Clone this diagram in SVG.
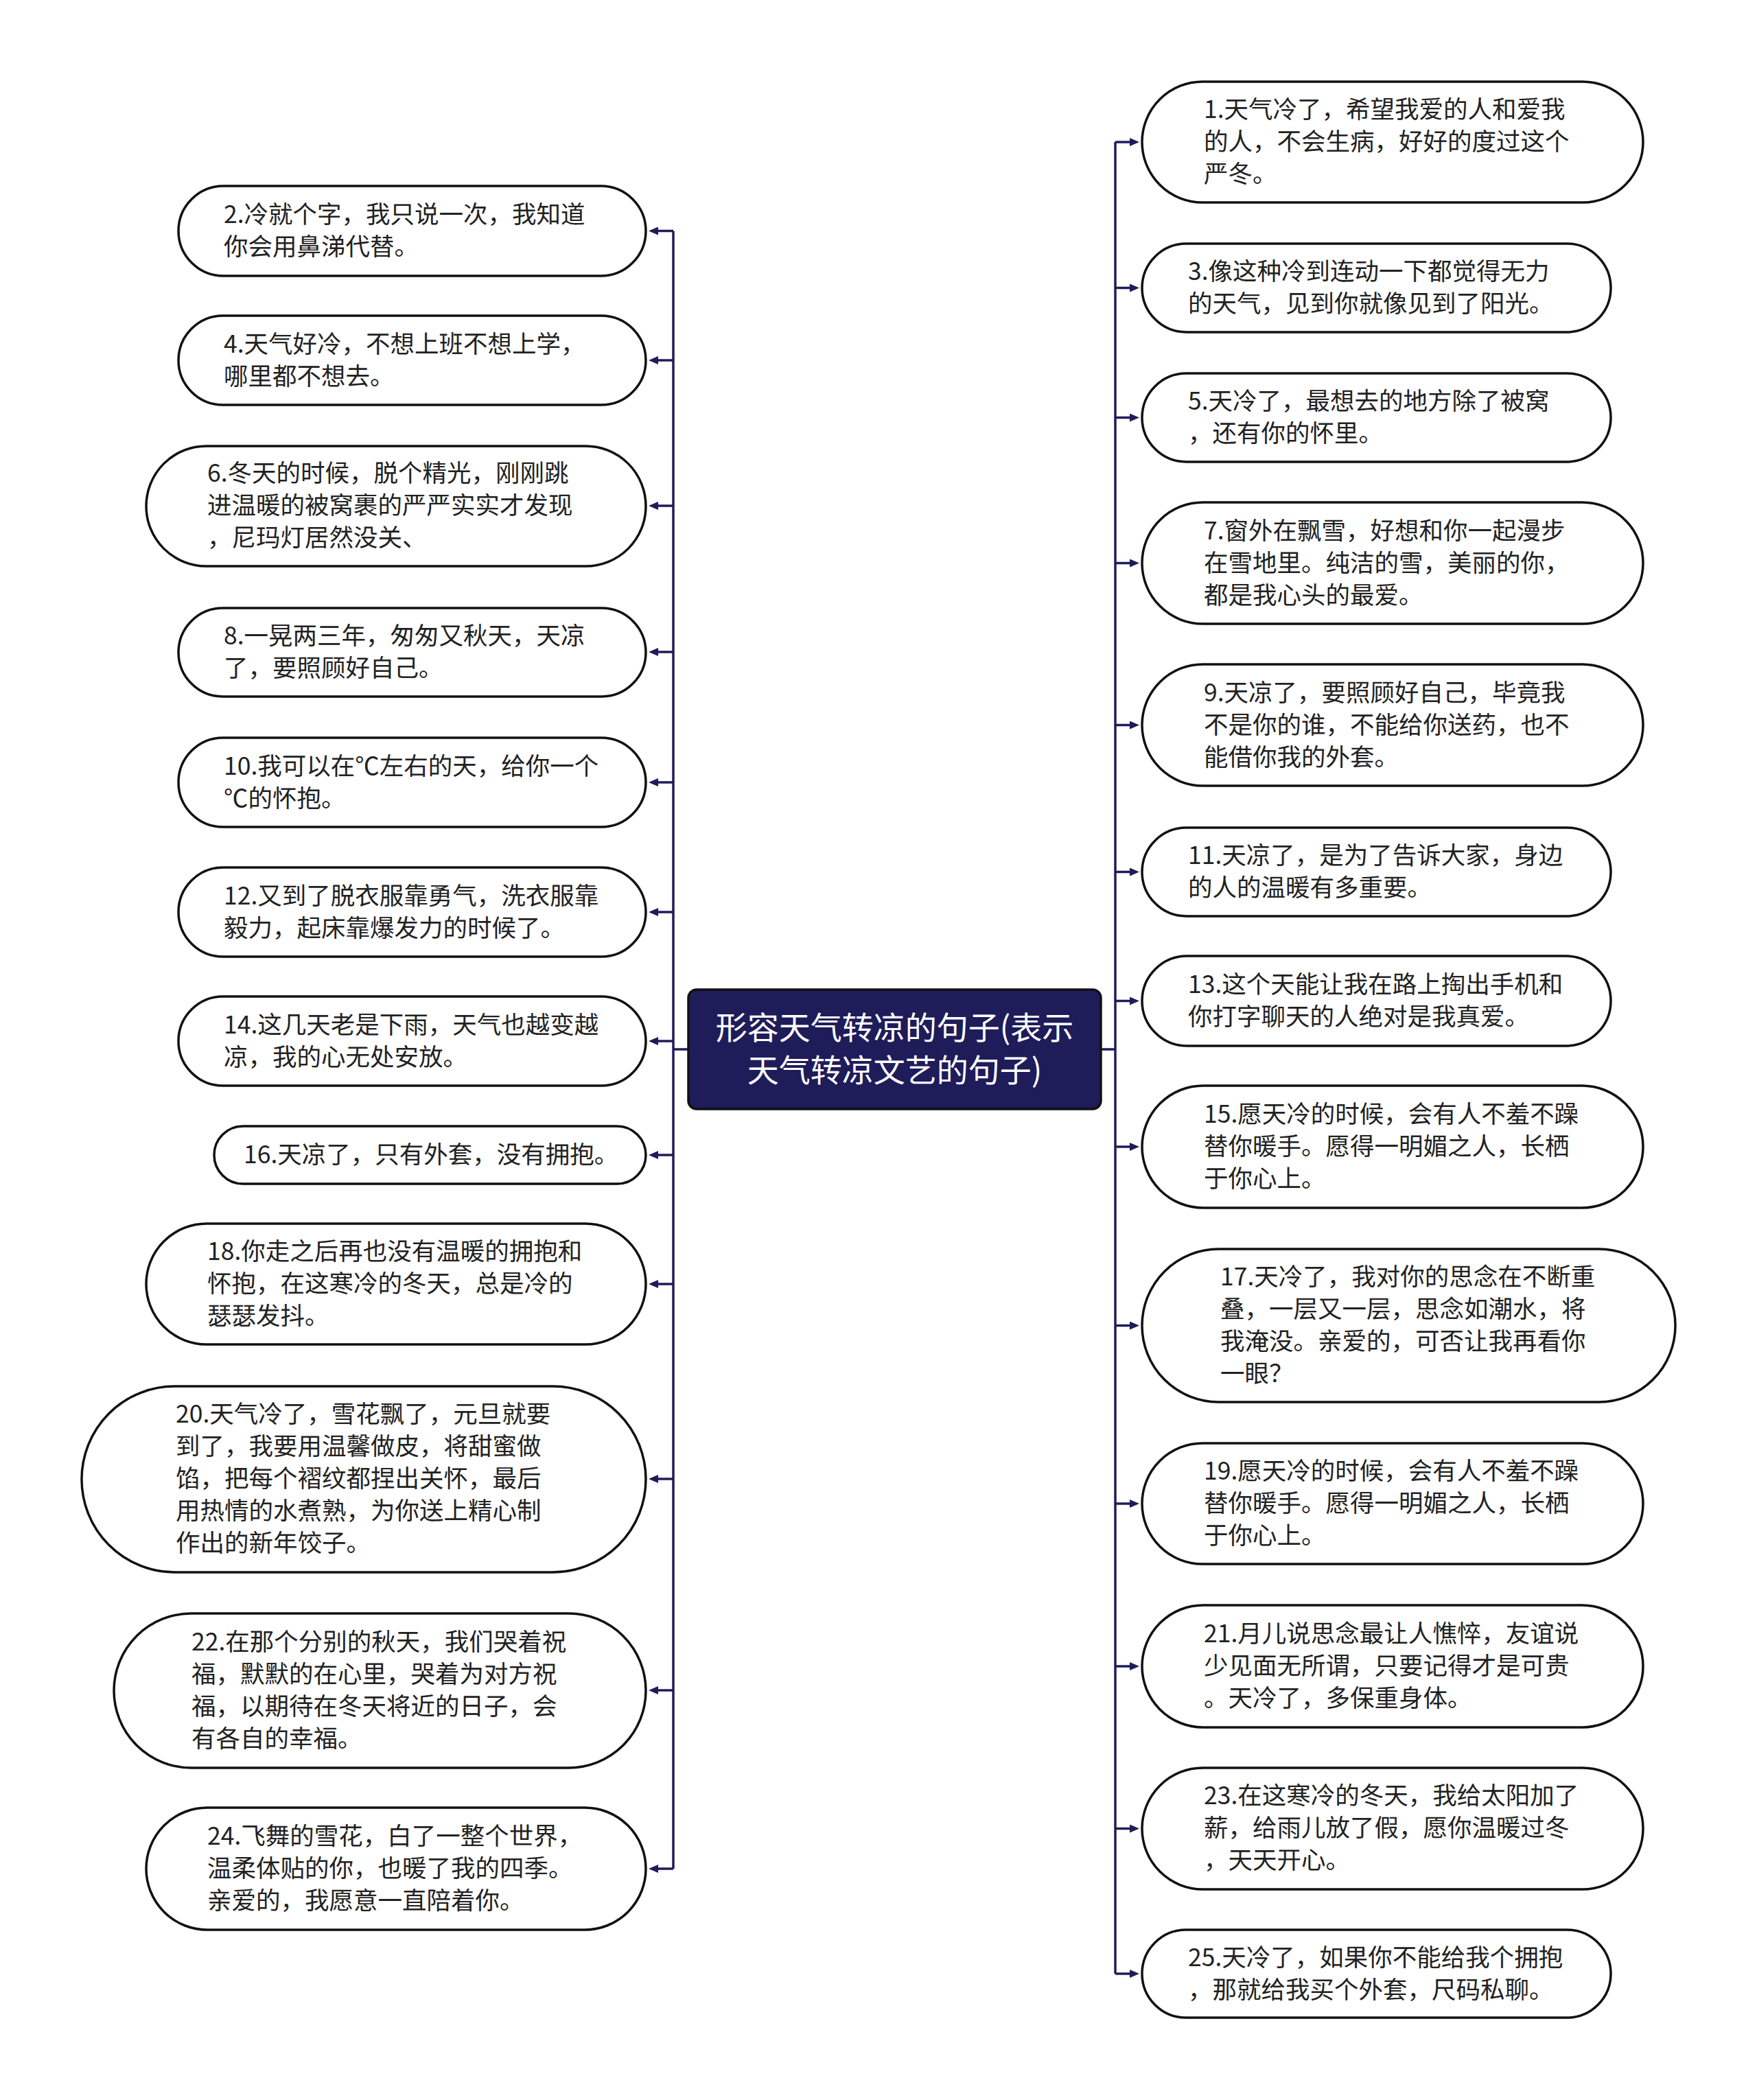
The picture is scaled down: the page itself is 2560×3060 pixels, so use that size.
<svg xmlns="http://www.w3.org/2000/svg" width="2560" height="3060" viewBox="0 0 2560 3060">
<defs>
<style>
.bg{fill:#ffffff}
.node rect{fill:#ffffff;stroke:#111111;stroke-width:3.5}
.node text{font-family:"Noto Sans CJK SC","Noto Sans",sans-serif;font-size:35.5px;fill:#222222}
.root rect{fill:#1f1c5a;stroke:#111111;stroke-width:3.5}
.root text{font-family:"Noto Sans CJK SC","Noto Sans",sans-serif;font-size:46px;fill:#ffffff;text-anchor:middle}
.conn path{fill:none;stroke:#1f1c5a;stroke-width:3.5}
.br{marker-end:url(#ah)}
</style>
<marker id="ah" markerUnits="userSpaceOnUse" markerWidth="14" markerHeight="12" refX="3" refY="6" orient="auto">
<path d="M0,0 L14,6 L0,12 Z" fill="#1f1c5a"/>
</marker>
</defs>
<rect class="bg" x="0" y="0" width="2560" height="3060"/>

<g id="connectors" class="conn">
<path d="M981,336.5 V2723"/>
<path d="M1625,207 V2876"/>
<path d="M1003,1529 H981"/>
<path d="M1604,1529 H1625"/>
<path class="br" d="M981,336.5 H956"/>
<path class="br" d="M981,525 H956"/>
<path class="br" d="M981,737 H956"/>
<path class="br" d="M981,950 H956"/>
<path class="br" d="M981,1140 H956"/>
<path class="br" d="M981,1329 H956"/>
<path class="br" d="M981,1517 H956"/>
<path class="br" d="M981,1683 H956"/>
<path class="br" d="M981,1871 H956"/>
<path class="br" d="M981,2155 H956"/>
<path class="br" d="M981,2463 H956"/>
<path class="br" d="M981,2723 H956"/>
<path class="br" d="M1625,207 H1649"/>
<path class="br" d="M1625,419.5 H1649"/>
<path class="br" d="M1625,608.5 H1649"/>
<path class="br" d="M1625,820.5 H1649"/>
<path class="br" d="M1625,1056.5 H1649"/>
<path class="br" d="M1625,1270.5 H1649"/>
<path class="br" d="M1625,1458.5 H1649"/>
<path class="br" d="M1625,1671 H1649"/>
<path class="br" d="M1625,1931.5 H1649"/>
<path class="br" d="M1625,2191 H1649"/>
<path class="br" d="M1625,2428 H1649"/>
<path class="br" d="M1625,2664.5 H1649"/>
<path class="br" d="M1625,2876 H1649"/>
</g>

<g id="root" class="root">
<rect x="1003" y="1442" width="601" height="174" rx="12"/>
<text x="1303.5" y="1514">形容天气转凉的句子(表示</text>
<text x="1303.5" y="1576">天气转凉文艺的句子)</text>
</g>

<g id="n2" class="node">
<rect x="260" y="271" width="681" height="131" rx="65.5"/>
<text x="326" y="325">2.冷就个字，我只说一次，我知道</text>
<text x="326" y="372">你会用鼻涕代替。</text>
</g>
<g id="n4" class="node">
<rect x="260" y="460" width="681" height="130" rx="65"/>
<text x="326" y="514">4.天气好冷，不想上班不想上学，</text>
<text x="326" y="561">哪里都不想去。</text>
</g>
<g id="n6" class="node">
<rect x="213" y="650" width="728" height="175" rx="87.5"/>
<text x="302" y="702">6.冬天的时候，脱个精光，刚刚跳</text>
<text x="302" y="749">进温暖的被窝裹的严严实实才发现</text>
<text x="302" y="796">，尼玛灯居然没关、</text>
</g>
<g id="n8" class="node">
<rect x="260" y="886" width="681" height="129" rx="64.5"/>
<text x="326" y="939">8.一晃两三年，匆匆又秋天，天凉</text>
<text x="326" y="986">了，要照顾好自己。</text>
</g>
<g id="n10" class="node">
<rect x="260" y="1075" width="681" height="130" rx="65"/>
<text x="326" y="1129">10.我可以在℃左右的天，给你一个</text>
<text x="326" y="1176">℃的怀抱。</text>
</g>
<g id="n12" class="node">
<rect x="260" y="1264" width="681" height="130" rx="65"/>
<text x="326" y="1318">12.又到了脱衣服靠勇气，洗衣服靠</text>
<text x="326" y="1365">毅力，起床靠爆发力的时候了。</text>
</g>
<g id="n14" class="node">
<rect x="260" y="1452" width="681" height="130" rx="65"/>
<text x="326" y="1506">14.这几天老是下雨，天气也越变越</text>
<text x="326" y="1553">凉，我的心无处安放。</text>
</g>
<g id="n16" class="node">
<rect x="312" y="1641" width="629" height="84" rx="42"/>
<text x="355" y="1695">16.天凉了，只有外套，没有拥抱。</text>
</g>
<g id="n18" class="node">
<rect x="213" y="1783" width="728" height="176" rx="88"/>
<text x="302" y="1836">18.你走之后再也没有温暖的拥抱和</text>
<text x="302" y="1883">怀抱，在这寒冷的冬天，总是冷的</text>
<text x="302" y="1930">瑟瑟发抖。</text>
</g>
<g id="n20" class="node">
<rect x="119" y="2020" width="822" height="271" rx="135.5"/>
<text x="256" y="2073">20.天气冷了，雪花飘了，元旦就要</text>
<text x="256" y="2120">到了，我要用温馨做皮，将甜蜜做</text>
<text x="256" y="2167">馅，把每个褶纹都捏出关怀，最后</text>
<text x="256" y="2214">用热情的水煮熟，为你送上精心制</text>
<text x="256" y="2261">作出的新年饺子。</text>
</g>
<g id="n22" class="node">
<rect x="166" y="2351" width="775" height="225" rx="112.5"/>
<text x="279" y="2405">22.在那个分别的秋天，我们哭着祝</text>
<text x="279" y="2452">福，默默的在心里，哭着为对方祝</text>
<text x="279" y="2499">福，以期待在冬天将近的日子，会</text>
<text x="279" y="2546">有各自的幸福。</text>
</g>
<g id="n24" class="node">
<rect x="213" y="2634" width="728" height="178" rx="89"/>
<text x="302" y="2688">24.飞舞的雪花，白了一整个世界，</text>
<text x="302" y="2735">温柔体贴的你，也暖了我的四季。</text>
<text x="302" y="2782">亲爱的，我愿意一直陪着你。</text>
</g>

<g id="n1" class="node">
<rect x="1664" y="119" width="730" height="176" rx="88"/>
<text x="1754" y="172">1.天气冷了，希望我爱的人和爱我</text>
<text x="1754" y="219">的人，不会生病，好好的度过这个</text>
<text x="1754" y="266">严冬。</text>
</g>
<g id="n3" class="node">
<rect x="1664" y="355" width="683" height="129" rx="64.5"/>
<text x="1731" y="408">3.像这种冷到连动一下都觉得无力</text>
<text x="1731" y="455">的天气，见到你就像见到了阳光。</text>
</g>
<g id="n5" class="node">
<rect x="1664" y="544" width="683" height="129" rx="64.5"/>
<text x="1731" y="597">5.天冷了，最想去的地方除了被窝</text>
<text x="1731" y="644">，还有你的怀里。</text>
</g>
<g id="n7" class="node">
<rect x="1664" y="732" width="730" height="177" rx="88.5"/>
<text x="1754" y="786">7.窗外在飘雪，好想和你一起漫步</text>
<text x="1754" y="833">在雪地里。纯洁的雪，美丽的你，</text>
<text x="1754" y="880">都是我心头的最爱。</text>
</g>
<g id="n9" class="node">
<rect x="1664" y="968" width="730" height="177" rx="88.5"/>
<text x="1754" y="1022">9.天凉了，要照顾好自己，毕竟我</text>
<text x="1754" y="1069">不是你的谁，不能给你送药，也不</text>
<text x="1754" y="1116">能借你我的外套。</text>
</g>
<g id="n11" class="node">
<rect x="1664" y="1206" width="683" height="129" rx="64.5"/>
<text x="1731" y="1259">11.天凉了，是为了告诉大家，身边</text>
<text x="1731" y="1306">的人的温暖有多重要。</text>
</g>
<g id="n13" class="node">
<rect x="1664" y="1393" width="683" height="131" rx="65.5"/>
<text x="1731" y="1447">13.这个天能让我在路上掏出手机和</text>
<text x="1731" y="1494">你打字聊天的人绝对是我真爱。</text>
</g>
<g id="n15" class="node">
<rect x="1664" y="1582" width="730" height="178" rx="89"/>
<text x="1754" y="1636">15.愿天冷的时候，会有人不羞不躁</text>
<text x="1754" y="1683">替你暖手。愿得一明媚之人，长栖</text>
<text x="1754" y="1730">于你心上。</text>
</g>
<g id="n17" class="node">
<rect x="1664" y="1820" width="777" height="223" rx="111.5"/>
<text x="1778" y="1873">17.天冷了，我对你的思念在不断重</text>
<text x="1778" y="1920">叠，一层又一层，思念如潮水，将</text>
<text x="1778" y="1967">我淹没。亲爱的，可否让我再看你</text>
<text x="1778" y="2014">一眼？</text>
</g>
<g id="n19" class="node">
<rect x="1664" y="2103" width="730" height="176" rx="88"/>
<text x="1754" y="2156">19.愿天冷的时候，会有人不羞不躁</text>
<text x="1754" y="2203">替你暖手。愿得一明媚之人，长栖</text>
<text x="1754" y="2250">于你心上。</text>
</g>
<g id="n21" class="node">
<rect x="1664" y="2339" width="730" height="178" rx="89"/>
<text x="1754" y="2393">21.月儿说思念最让人憔悴，友谊说</text>
<text x="1754" y="2440">少见面无所谓，只要记得才是可贵</text>
<text x="1754" y="2487">。天冷了，多保重身体。</text>
</g>
<g id="n23" class="node">
<rect x="1664" y="2576" width="730" height="177" rx="88.5"/>
<text x="1754" y="2629">23.在这寒冷的冬天，我给太阳加了</text>
<text x="1754" y="2676">薪，给雨儿放了假，愿你温暖过冬</text>
<text x="1754" y="2723">，天天开心。</text>
</g>
<g id="n25" class="node">
<rect x="1664" y="2812" width="683" height="128" rx="64"/>
<text x="1731" y="2865">25.天冷了，如果你不能给我个拥抱</text>
<text x="1731" y="2912">，那就给我买个外套，尺码私聊。</text>
</g>
</svg>
